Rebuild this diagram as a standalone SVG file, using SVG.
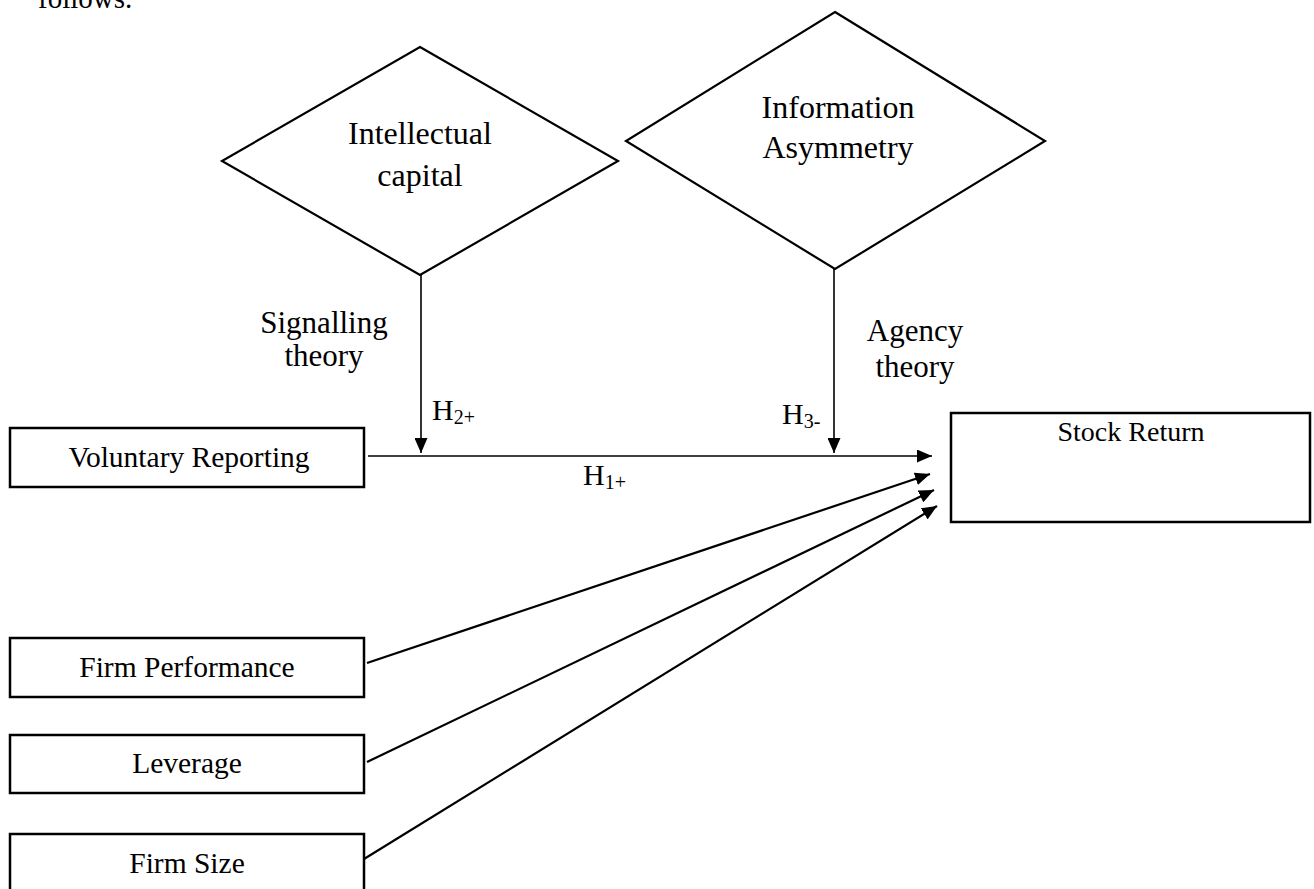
<svg xmlns="http://www.w3.org/2000/svg" width="1314" height="889" viewBox="0 0 1314 889">
  <defs>
    <marker id="arr" viewBox="0 0 15 13" refX="15" refY="6.5" markerWidth="15" markerHeight="13" markerUnits="userSpaceOnUse" orient="auto">
      <path d="M0,0 L15,6.5 L0,13 Z" fill="#000"/>
    </marker>
    <style>
      text { font-family: "Liberation Serif", "Times New Roman", serif; fill: #000; }
      .box { fill: #fff; stroke: #000; stroke-width: 2.5; }
      .dia { fill: #fff; stroke: #000; stroke-width: 2.2; }
      .lbl { font-size: 29.5px; text-anchor: middle; }
      .dlbl { font-size: 32px; text-anchor: middle; }
      .th { font-size: 31px; text-anchor: middle; }
      .hyp { font-size: 30px; }
      .sub { font-size: 20px; }
      .conn { fill: none; stroke: #000; stroke-width: 1.6; }
      .conn2 { fill: none; stroke: #000; stroke-width: 2.2; }
    </style>
  </defs>
  <rect width="1314" height="889" fill="#fff"/>

  <text x="38" y="8" style="font-size:29px">follows.</text>

  <g id="connectors">
    <line class="conn" x1="421" y1="275" x2="421" y2="453" marker-end="url(#arr)"/>
    <line class="conn" x1="834" y1="269" x2="834" y2="453" marker-end="url(#arr)"/>
    <line class="conn" x1="368" y1="456" x2="932" y2="456" marker-end="url(#arr)"/>
    <line class="conn2" x1="367" y1="663" x2="930" y2="474" marker-end="url(#arr)"/>
    <line class="conn2" x1="367" y1="762" x2="934" y2="490" marker-end="url(#arr)"/>
    <line class="conn2" x1="364" y1="859" x2="937" y2="506" marker-end="url(#arr)"/>
  </g>

  <g id="intellectual-capital">
    <polygon class="dia" points="420,47 618,161 420,275 222,161"/>
    <text class="dlbl" x="420" y="144">Intellectual</text>
    <text class="dlbl" x="420" y="186">capital</text>
  </g>

  <g id="information-asymmetry">
    <polygon class="dia" points="835,12 1045,141 835,269 626,141"/>
    <text class="dlbl" x="838" y="118">Information</text>
    <text class="dlbl" x="838" y="158">Asymmetry</text>
  </g>

  <g id="signalling-theory">
    <text class="th" x="324" y="333">Signalling</text>
    <text class="th" x="324" y="366">theory</text>
  </g>

  <g id="agency-theory">
    <text class="th" x="915" y="341">Agency</text>
    <text class="th" x="915" y="377">theory</text>
  </g>

  <g id="h2">
    <text class="hyp" x="432" y="420">H<tspan class="sub" dy="4">2+</tspan></text>
  </g>
  <g id="h3">
    <text class="hyp" x="782" y="424">H<tspan class="sub" dy="4">3-</tspan></text>
  </g>
  <g id="h1">
    <text class="hyp" x="583" y="485">H<tspan class="sub" dy="4">1+</tspan></text>
  </g>

  <g id="voluntary-reporting">
    <rect class="box" x="10" y="428" width="354" height="59"/>
    <text class="lbl" x="189" y="467">Voluntary Reporting</text>
  </g>

  <g id="stock-return">
    <rect class="box" x="951" y="413" width="359" height="109"/>
    <text class="lbl" x="1131" y="441" style="font-size:28px">Stock Return</text>
  </g>

  <g id="firm-performance">
    <rect class="box" x="10" y="638" width="354" height="59"/>
    <text class="lbl" x="187" y="677">Firm Performance</text>
  </g>

  <g id="leverage">
    <rect class="box" x="10" y="735" width="354" height="58"/>
    <text class="lbl" x="187" y="773">Leverage</text>
  </g>

  <g id="firm-size">
    <rect class="box" x="10" y="834" width="354" height="70"/>
    <text class="lbl" x="187" y="873">Firm Size</text>
  </g>
</svg>
